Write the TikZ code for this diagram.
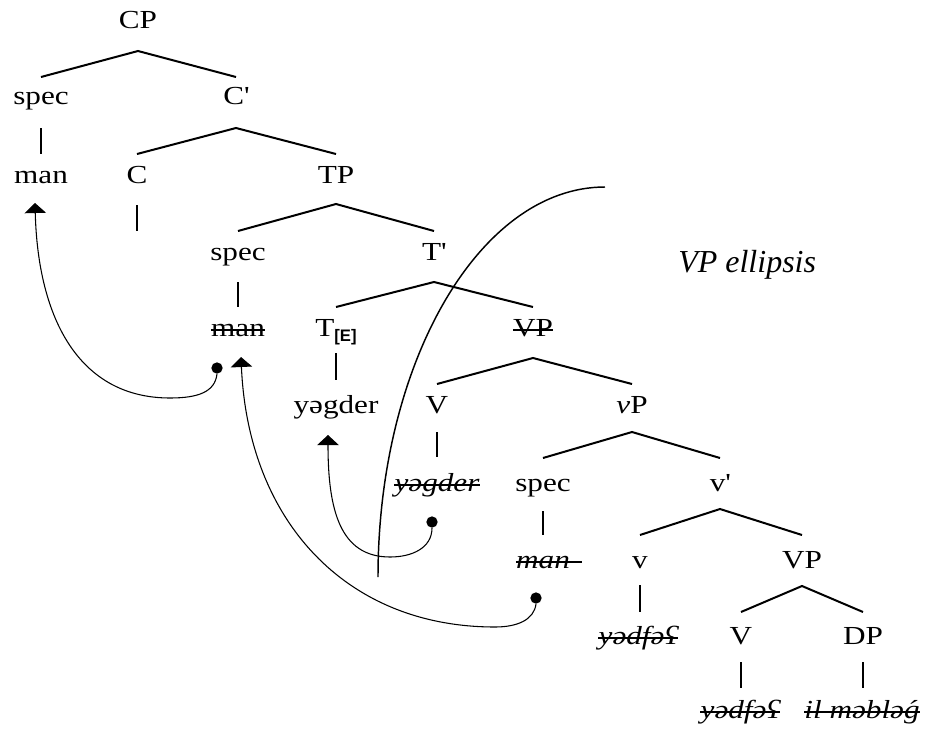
\documentclass[tikz,border=0pt]{standalone}
\usepackage{fontspec}
\setmainfont{Liberation Serif}
\newfontfamily\tf{Liberation Serif}[FakeStretch=1.2]
\newfontfamily\subf{Liberation Sans}
\usetikzlibrary{arrows.meta,calc}
\newcommand\tbranch[5]{\draw[br] ($(#2.base)+(0,#5)$) -- ($(#1.base)+(0,#4)$) -- ($(#3.base)+(0,#5)$);}
\newcommand\tstem[4]{\draw[br] ($(#1.base)+(0,#3)$) -- ($(#1.base |- #2.base)+(0,#4)$);}
\newcommand\strk[2]{\draw[sk] ($(#1.base west)+(0,-6)$) -- ($(#1.base east)+(#2,-6)$);}
\begin{document}
\begin{tikzpicture}[x=0.75pt,y=-0.75pt,
 tn/.style={anchor=base,inner sep=0pt,font=\tf\fontsize{19.5}{22}\selectfont},
 br/.style={line width=1.5pt},
 sk/.style={line width=1pt},
 mv/.style={line width=0.8pt,-{Triangle[width=16pt,length=7.5pt]}},
 dotn/.style={circle,fill,inner sep=0pt,minimum size=8.5pt}]
\fill[white] (0,0) rectangle (933,729);
\useasboundingbox (0,0) rectangle (933,729);
% nodes
\node[tn] (CP) at (138,28) {CP};
\node[tn] (spA) at (41,104) {spec};
\node[tn] (Cbar) at (236,104) {C\textquotesingle};
\node[tn] (manA) at (41,183) {man};
\node[tn] (C) at (137,183) {C};
\node[tn] (TP) at (336,183) {TP};
\node[tn] (spB) at (238,260) {spec};
\node[tn] (Tbar) at (434,260) {T\textquotesingle};
\node[tn] (manB) at (238,336) {man};
\node[tn] (T) at (336,336) {T\raisebox{-4pt}{\subf\bfseries\fontsize{12.5}{12.5}\selectfont[E]}};
\node[tn] (VPa) at (533,336) {VP};
\node[tn] (yegA) at (336,413) {yəgder};
\node[tn] (Va) at (437,413) {V};
\node[tn] (vP) at (632,413) {{\itshape v}P};
\node[tn] (yegB) at (437,491) {\itshape yəgder};
\node[tn] (spC) at (543,491) {spec};
\node[tn] (vbar) at (720,491) {v\textquotesingle};
\node[tn] (manC) at (543,568) {\itshape man};
\node[tn] (v) at (640,568) {v};
\node[tn] (VPb) at (802,568) {VP};
\node[tn] (yedA) at (638,644) {\itshape yədfəʕ};
\node[tn] (Vb) at (741,644) {V};
\node[tn] (DP) at (863,644) {DP};
\node[tn] (yedB) at (740,718) {\itshape yədfəʕ};
\node[tn] (il) at (862,718) {\itshape il məbləǵ};
\node[anchor=base west,inner sep=0pt,font=\itshape\fontsize{24}{28}\selectfont] (ell) at (678,272) {VP ellipsis};
% branches
\tbranch{CP}{spA}{Cbar}{23}{-27}
\tbranch{Cbar}{C}{TP}{24}{-29}
\tbranch{TP}{spB}{Tbar}{21}{-29}
\tbranch{Tbar}{T}{VPa}{22}{-29}
\tbranch{VPa}{Va}{vP}{22}{-29}
\tbranch{vP}{spC}{vbar}{19}{-33}
\tbranch{vbar}{v}{VPb}{18}{-33}
\tbranch{VPb}{Vb}{DP}{18}{-32}
% stems
\tstem{spA}{manA}{24}{-29}
\draw[br] ($(C.base)+(0,22)$) coordinate (c1) -- ($(C.base)+(0,48)$) coordinate (c2);
\tstem{spB}{manB}{22}{-29}
\tstem{T}{yegA}{17}{-33}
\tstem{Va}{yegB}{19}{-34}
\tstem{spC}{manC}{20}{-33}
\tstem{v}{yedA}{17}{-32}
\tstem{Vb}{yedB}{18}{-30}
\tstem{DP}{il}{18}{-30}
% strikes
\strk{manB}{0}
\strk{VPa}{0}
\strk{yegB}{0}
\strk{manC}{12}
\strk{yedA}{0}
\strk{yedB}{0}
\strk{il}{0}
% ellipsis boundary
\coordinate (e1) at (378,577);
\coordinate (e2) at (605,187);
\draw[line width=1.1pt] (e1) .. controls (378,362) and (480,187) .. (e2);
% movement arrows
\node[dotn] (d1) at (217,368) {};
\coordinate (t1) at (35,203);
\draw[mv] (d1.south) .. controls (215,392) and (198,398) .. (170,398) .. controls (80,398) and (38,320) .. (t1);
\node[dotn] (d2) at (536,598) {};
\coordinate (t2) at (241,357);
\draw[mv] (d2.south) .. controls (534,620) and (517,627) .. (495,627) .. controls (345,627) and (248,520) .. (t2);
\node[dotn] (d3) at (432,522) {};
\coordinate (t3) at (328,435);
\draw[mv] (d3.south) .. controls (432,548) and (412,557) .. (390,557) .. controls (340,557) and (328,510) .. (t3);
\end{tikzpicture}
\end{document}
